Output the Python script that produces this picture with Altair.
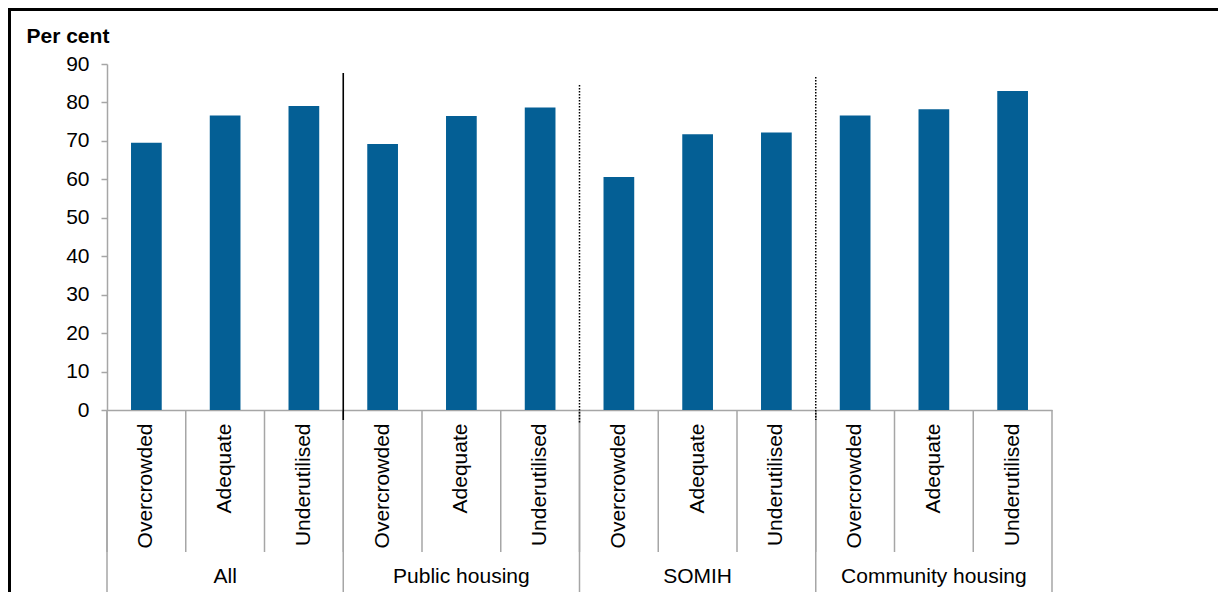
import altair as alt
import pandas as pd

groups = ["All", "Public housing", "SOMIH", "Community housing"]
categories = ["Overcrowded", "Adequate", "Underutilised"]
values_all = [69.5, 76.6, 79.1]
values_public = [69.2, 76.5, 78.7]
values_somih = [60.6, 71.7, 72.2]
values_community = [76.6, 78.2, 83.0]
y_ticks = [0, 10, 20, 30, 40, 50, 60, 70, 80, 90]

series = [values_all, values_public, values_somih, values_community]
rows = []
for g, vals in zip(groups, series):
    for c, v in zip(categories, vals):
        rows.append({"group": g, "cat": c, "key": f"{g}|{c}", "value": v})
df = pd.DataFrame(rows)
order = list(df["key"])

first_keys = pd.DataFrame({"key": [f"{g}|{categories[0]}" for g in groups]})
last_key = pd.DataFrame({"key": [f"{groups[-1]}|{categories[-1]}"]})
mid_keys = pd.DataFrame({"key": [f"{g}|{categories[1]}" for g in groups], "group": groups})
solid_sep = pd.DataFrame({"key": [f"{groups[1]}|{categories[0]}"]})
dot_sep1 = pd.DataFrame({"key": [f"{groups[2]}|{categories[0]}"]})
dot_sep2 = pd.DataFrame({"key": [f"{groups[3]}|{categories[0]}"]})

W, H = 945, 346
FONT = "Liberation Sans"
BLUE = "#045F95"
GRAY = "#A6A6A6"
xscale = alt.Scale(domain=order, paddingInner=0, paddingOuter=0)

xaxis = alt.Axis(
    title=None,
    labelExpr="split(datum.label, '|')[1]",
    labelAngle=-90,
    labelAlign="right",
    labelBaseline="middle",
    labelOverlap=False,
    ticks=False,
    domain=True,
    domainColor=GRAY,
    domainWidth=1.5,
    labelPadding=13,
    labelFont=FONT,
    labelFontSize=21,
    labelColor="black",
    labelLimit=300,
)


def xenc(band=0.5):
    return alt.X("key:N", scale=xscale, bandPosition=band, axis=xaxis, title=None)


bars = alt.Chart(df).mark_bar(width=alt.RelativeBandSize(0.39), color=BLUE).encode(
    x=alt.X("key:N", scale=xscale, axis=xaxis, title=None),
    y=alt.Y(
        "value:Q",
        scale=alt.Scale(domain=[0, 90], nice=False),
        axis=alt.Axis(
            values=y_ticks,
            title="Per cent",
            titleAngle=0,
            titleAlign="left",
            titleBaseline="alphabetic",
            titleX=-81,
            titleY=-22,
            titleFont=FONT,
            titleFontSize=21,
            titleFontWeight="bold",
            titleColor="black",
            grid=False,
            domainColor=GRAY,
            domainWidth=1.5,
            tickColor=GRAY,
            tickWidth=1.5,
            tickSize=6,
            labelPadding=12,
            labelFont=FONT,
            labelFontSize=21,
            labelColor="black",
        ),
    ),
)

cat_div = alt.Chart(df).mark_rule(color=GRAY, strokeWidth=1.5).encode(
    x=xenc(0), y=alt.value(H), y2=alt.value(H + 142)
)
grp_div = alt.Chart(first_keys).mark_rule(color=GRAY, strokeWidth=1.5).encode(
    x=xenc(0), y=alt.value(H), y2=alt.value(H + 190)
)
grp_end = alt.Chart(last_key).mark_rule(color=GRAY, strokeWidth=1.5).encode(
    x=xenc(1), y=alt.value(H), y2=alt.value(H + 190)
)
grp_text = alt.Chart(mid_keys).mark_text(
    font=FONT, fontSize=21, color="black", baseline="alphabetic", align="center"
).encode(x=xenc(0.5), y=alt.value(H + 173), text="group:N")

sep1 = alt.Chart(solid_sep).mark_rule(color="black", strokeWidth=1.6).encode(
    x=xenc(0), y=alt.value(9), y2=alt.value(356)
)
sep2 = alt.Chart(dot_sep1).mark_rule(color="black", strokeWidth=1.5, strokeDash=[1.5, 1.5]).encode(
    x=xenc(0), y=alt.value(21), y2=alt.value(359)
)
sep3 = alt.Chart(dot_sep2).mark_rule(color="black", strokeWidth=1.5, strokeDash=[1.5, 1.5]).encode(
    x=xenc(0), y=alt.value(13), y2=alt.value(356)
)

frame_left = alt.Chart(first_keys).mark_rule(color="black", strokeWidth=3).encode(
    x=alt.value(-97.5), y=alt.value(-56), y2=alt.value(H + 190)
)
frame_top = alt.Chart(first_keys).mark_rule(color="black", strokeWidth=3).encode(
    x=alt.value(-99), x2=alt.value(W + 166), y=alt.value(-54.5)
)

chart = alt.layer(
    bars, cat_div, grp_div, grp_end, sep1, sep2, sep3, grp_text, frame_left, frame_top
).properties(
    width=W,
    height=H,
    autosize=alt.AutoSizeParams(type="none"),
    padding={"left": 99, "top": 56, "right": 166, "bottom": 182},
    background="white",
).configure_view(stroke=None)

chart.save("out.html", embed_options={"renderer": "svg", "actions": False})
